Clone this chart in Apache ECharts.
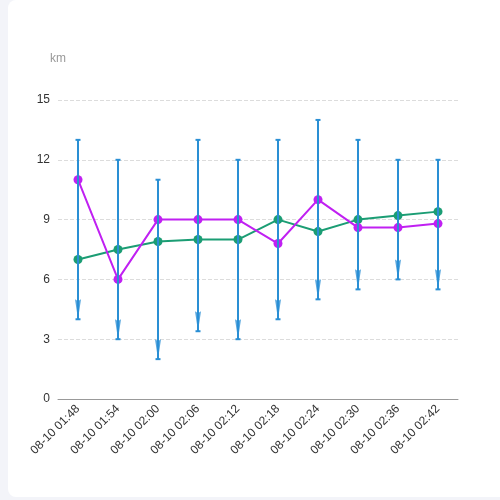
<!DOCTYPE html>
<html>
<head>
<meta charset="utf-8">
<script src="https://cdn.jsdelivr.net/npm/echarts@6/dist/echarts.min.js"></script>
<style>
  html, body { margin: 0; padding: 0; background: #f3f4f9; width: 500px; height: 500px; overflow: hidden; }
  #card { position: absolute; left: 8px; top: 0; width: 500px; height: 497px; background: #fff; border-radius: 8px; }
  #chart { position: absolute; left: 0; top: 0; width: 500px; height: 500px; }
</style>
</head>
<body>
<div id="card"></div>
<div id="chart"></div>
<script>
const categories = ['08-10 01:48','08-10 01:54','08-10 02:00','08-10 02:06','08-10 02:12','08-10 02:18','08-10 02:24','08-10 02:30','08-10 02:36','08-10 02:42'];
const greenValues = [7, 7.5, 7.9, 8, 8, 9, 8.4, 9, 9.2, 9.4];
const purpleValues = [11, 6, 9, 9, 9, 7.8, 10, 8.6, 8.6, 8.8];
const rangeLow = [4, 3, 2, 3.4, 3, 4, 5, 5.5, 6, 5.5];
const rangeHigh = [13, 12, 11, 13, 12, 13, 14, 13, 12, 12];

const BLUE = '#2a8fd4';
const GREEN = '#1b9d74';
const PURPLE = '#c020f2';

const rangeData = categories.map((c, i) => [i, rangeLow[i], rangeHigh[i]]);

const chart = echarts.init(document.getElementById('chart'));
chart.setOption({
  animation: false,
  backgroundColor: 'transparent',
  grid: { left: 58, right: 42, top: 100, bottom: 101, containLabel: false },
  xAxis: {
    type: 'category',
    data: categories,
    boundaryGap: true,
    axisLine: { lineStyle: { color: '#999' } },
    axisTick: { alignWithLabel: true, length: 5, lineStyle: { color: '#999' } },
    axisLabel: { rotate: 45, color: '#333', fontSize: 12, fontFamily: 'sans-serif', margin: 8 }
  },
  yAxis: {
    type: 'value',
    min: 0, max: 15, interval: 3,
    name: 'km',
    nameGap: 35,
    nameTextStyle: { color: '#999', fontSize: 12 },
    axisLine: { show: false },
    axisTick: { show: false },
    axisLabel: { color: '#333', fontSize: 12, margin: 8 },
    splitLine: { lineStyle: { type: 'dashed', color: '#dcdcdc' } }
  },
  series: [
    {
      type: 'line',
      data: greenValues,
      symbol: 'circle',
      symbolSize: 9,
      lineStyle: { color: GREEN, width: 2 },
      itemStyle: { color: GREEN },
      z: 2
    },
    {
      type: 'line',
      data: purpleValues,
      symbol: 'circle',
      symbolSize: 9,
      lineStyle: { color: PURPLE, width: 2 },
      itemStyle: { color: PURPLE },
      z: 2
    },
    {
      type: 'custom',
      data: rangeData,
      z: 5,
      renderItem: function (params, api) {
        const x = api.value(0);
        const lo = api.coord([x, api.value(1)]);
        const hi = api.coord([x, api.value(2)]);
        const cw = 2.5;
        const style = { stroke: BLUE, lineWidth: 2 };
        return {
          type: 'group',
          children: [
            { type: 'line', shape: { x1: hi[0], y1: hi[1], x2: lo[0], y2: lo[1] }, style: style },
            { type: 'line', shape: { x1: hi[0] - cw, y1: hi[1], x2: hi[0] + cw, y2: hi[1] }, style: style },
            { type: 'line', shape: { x1: lo[0] - cw, y1: lo[1], x2: lo[0] + cw, y2: lo[1] }, style: style }
          ]
        };
      }
    },
    {
      type: 'scatter',
      data: rangeLow,
      symbol: 'path://M0,0 L3,2 L6,0 L3,20 Z',
      symbolSize: [6, 20],
      symbolKeepAspect: false,
      symbolOffset: [0, -10],
      itemStyle: { color: BLUE },
      z: 6
    }
  ]
});
</script>
</body>
</html>
